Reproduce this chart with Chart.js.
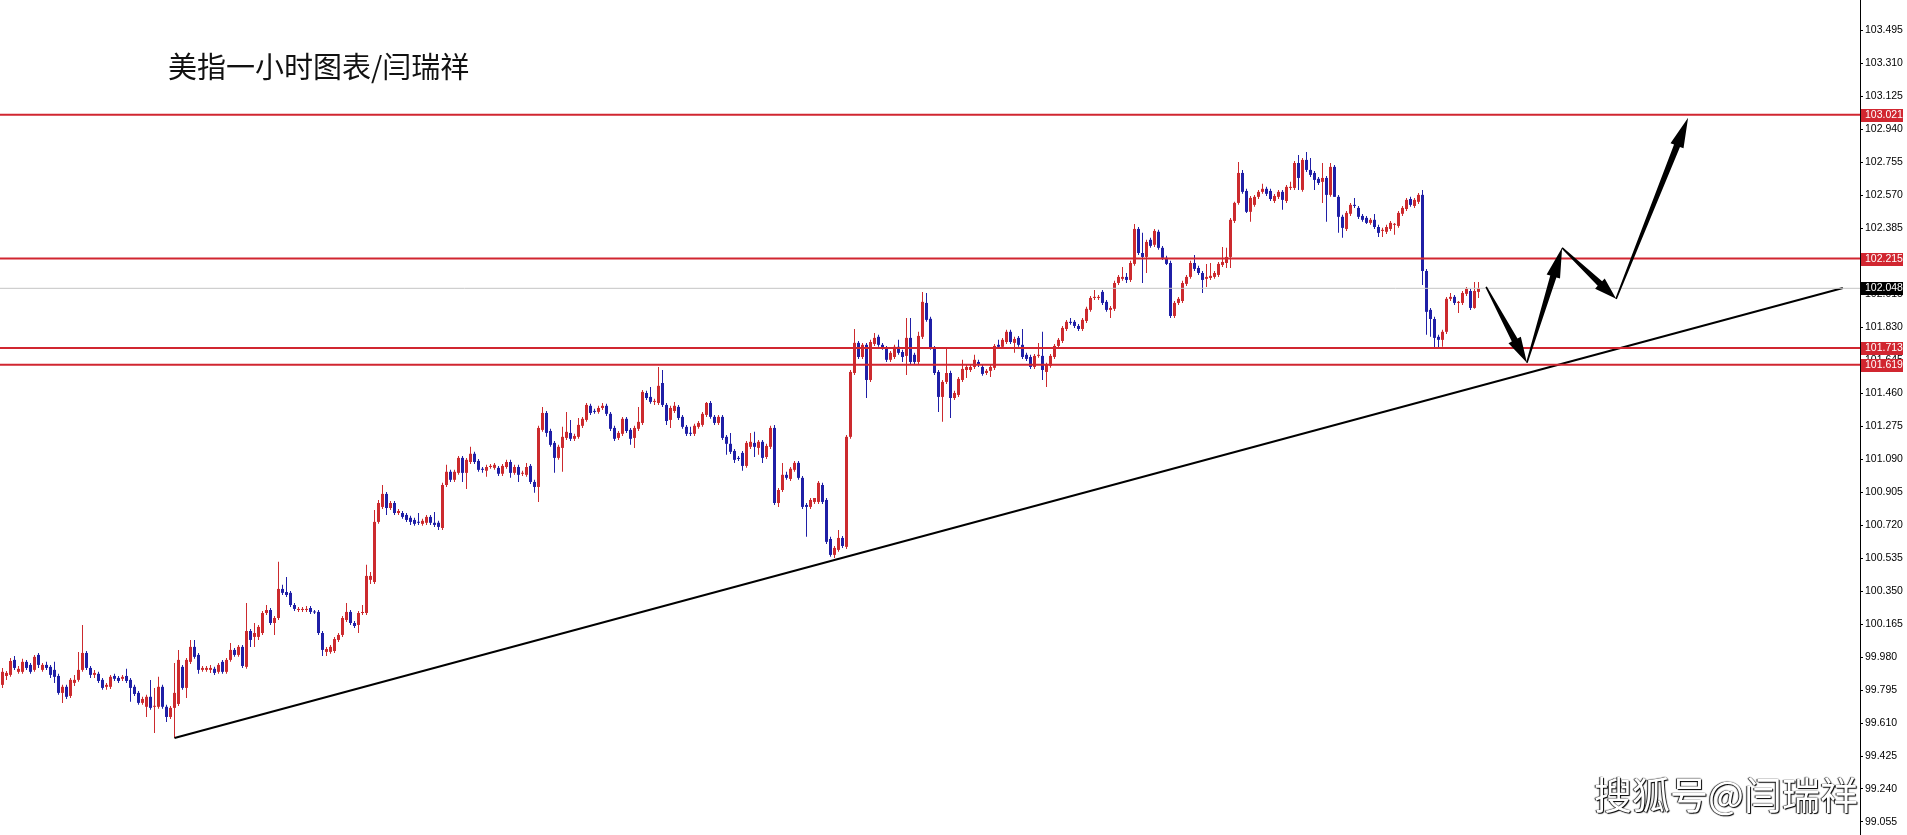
<!DOCTYPE html>
<html>
<head>
<meta charset="utf-8">
<script src="https://cdn.jsdelivr.net/npm/chart.js@4.4.0/dist/chart.umd.min.js"></script>
<style>
html, body { margin: 0; padding: 0; background: #fff; overflow: hidden; }
#wrap { position: relative; width: 1907px; height: 835px; }
#title { position: absolute; left: 168px; top: 51px; font: 29px/1 "Noto Sans CJK SC", sans-serif; color: #111; white-space: nowrap; }
#mark { position: absolute; left: 1594px; top: 774px; font: 38px/1 "Noto Sans CJK SC", sans-serif; color: #fff; white-space: nowrap;
        text-shadow: 1px 1px 1px #000, -1px 0 1px #222, 0 0 1px #000; }
</style>
</head>
<body>
<div id="wrap">
<canvas id="chart" width="1907" height="835"></canvas>
<div id="title">美指一小时图表/闫瑞祥</div>
<div id="mark">搜狐号@闫瑞祥</div>
</div>
<script>
// hourly candles, oldest first
const opens = [
99.824,99.874,99.880,99.964,99.897,99.897,99.953,99.936,99.908,99.992,
99.908,99.936,99.925,99.908,99.874,99.779,99.813,99.762,99.835,99.852,
99.908,100.003,99.919,99.880,99.886,99.852,99.813,99.813,99.874,99.863,
99.858,99.874,99.852,99.813,99.779,99.723,99.701,99.757,99.701,99.701,
99.813,99.701,99.644,99.695,99.717,99.925,99.807,99.953,100.037,99.992,
99.908,99.908,99.908,99.914,99.897,99.953,99.897,99.964,100.020,99.992,
100.037,99.925,100.126,100.093,100.093,100.115,100.227,100.244,100.171,100.199,
100.362,100.345,100.340,100.272,100.244,100.244,100.244,100.255,100.233,100.233,
100.115,100.009,100.009,100.014,100.076,100.104,100.188,100.233,100.171,100.160,
100.227,100.227,100.413,100.401,100.738,100.822,100.895,100.816,100.844,100.788,
100.788,100.777,100.761,100.749,100.738,100.727,100.733,100.766,100.733,100.733,
100.704,100.945,101.019,100.974,101.013,101.097,101.013,101.074,101.120,101.080,
101.036,101.025,101.046,101.041,101.041,101.008,101.046,101.074,101.013,101.046,
101.008,101.002,101.052,100.962,100.934,101.254,101.349,101.248,101.181,101.097,
101.153,101.209,101.237,101.204,101.215,101.277,101.310,101.389,101.360,101.355,
101.377,101.389,101.344,101.265,101.209,101.232,101.316,101.254,101.209,101.260,
101.293,101.461,101.439,101.411,101.405,101.517,101.394,101.310,101.360,101.383,
101.327,101.271,101.237,101.232,101.271,101.282,101.338,101.405,101.327,101.293,
101.327,101.215,101.176,101.136,101.097,101.125,101.052,101.159,101.181,101.153,
101.187,101.102,101.159,101.265,100.844,100.917,101.002,100.979,101.030,101.069,
100.985,100.833,100.822,100.850,100.850,100.945,100.861,100.642,100.553,100.581,
100.648,100.598,101.215,101.573,101.742,101.663,101.731,101.534,101.736,101.776,
101.731,101.714,101.647,101.663,101.720,101.691,101.669,101.770,101.675,101.635,
101.776,101.966,101.877,101.714,101.579,101.439,101.523,101.573,101.433,101.450,
101.534,101.590,101.590,101.607,101.635,101.607,101.573,101.585,101.602,101.731,
101.720,101.747,101.804,101.742,101.770,101.731,101.675,101.663,101.607,101.669,
101.669,101.579,101.613,101.663,101.725,101.753,101.820,101.860,101.860,101.837,
101.820,101.865,101.927,101.994,101.994,102.028,101.972,101.927,101.933,102.078,
102.101,102.112,102.095,102.185,102.381,102.246,102.224,102.320,102.292,102.365,
102.275,102.219,102.190,101.893,101.966,101.977,102.073,102.112,102.190,102.162,
102.134,102.101,102.106,102.112,102.123,102.179,102.190,102.224,102.426,102.527,
102.695,102.594,102.477,102.516,102.561,102.589,102.606,102.594,102.538,102.561,
102.589,102.538,102.611,102.611,102.751,102.600,102.768,102.712,102.695,102.662,
102.645,102.667,102.572,102.729,102.561,102.449,102.381,102.466,102.516,102.499,
102.454,102.443,102.415,102.432,102.392,102.370,102.365,102.381,102.404,102.398,
102.466,102.493,102.549,102.510,102.533,102.572,102.145,101.927,101.876,101.776,
101.759,101.804,101.989,102.000,101.966,101.966,102.017,102.033,101.938,102.028
];
const highs = [
99.919,99.902,99.975,99.986,99.930,99.970,99.964,99.947,99.992,100.003,
99.947,99.953,99.936,99.953,99.886,99.824,99.824,99.863,99.880,100.009,
100.160,100.014,99.930,99.908,99.897,99.863,99.835,99.880,99.886,99.874,
99.880,99.914,99.863,99.824,99.790,99.757,99.768,99.852,99.807,99.869,
99.824,99.712,99.706,99.947,100.020,99.936,99.975,100.076,100.076,100.003,
99.930,99.930,99.936,99.925,99.947,99.964,99.975,100.059,100.031,100.048,
100.048,100.283,100.138,100.171,100.160,100.238,100.272,100.255,100.210,100.514,
100.385,100.429,100.351,100.283,100.261,100.261,100.266,100.266,100.244,100.244,
100.126,100.037,100.048,100.093,100.115,100.210,100.283,100.244,100.182,100.238,
100.272,100.497,100.457,100.805,100.861,100.945,100.906,100.855,100.855,100.811,
100.799,100.788,100.772,100.761,100.788,100.755,100.777,100.777,100.794,100.744,
100.957,101.058,101.030,101.030,101.108,101.108,101.097,101.159,101.131,101.091,
101.046,101.058,101.063,101.069,101.052,101.063,101.086,101.086,101.058,101.058,
101.025,101.069,101.063,100.974,101.277,101.383,101.360,101.260,101.192,101.170,
101.271,101.355,101.310,101.232,101.321,101.327,101.405,101.400,101.372,101.389,
101.405,101.400,101.355,101.277,101.248,101.327,101.327,101.265,101.277,101.383,
101.478,101.473,101.495,101.428,101.607,101.590,101.405,101.389,101.411,101.394,
101.338,101.282,101.271,101.288,101.304,101.355,101.411,101.416,101.338,101.338,
101.338,101.226,101.237,101.147,101.108,101.136,101.192,101.237,101.243,101.198,
101.198,101.176,101.277,101.282,100.928,101.069,101.019,101.046,101.080,101.080,
100.996,100.844,100.872,100.872,100.968,100.957,100.872,100.654,100.603,100.693,
100.659,101.226,101.590,101.820,101.753,101.742,101.742,101.759,101.798,101.787,
101.742,101.725,101.697,101.731,101.759,101.703,101.882,101.882,101.686,101.804,
102.028,102.022,101.888,101.725,101.590,101.534,101.708,101.585,101.473,101.551,
101.647,101.619,101.619,101.675,101.647,101.619,101.596,101.619,101.736,101.759,
101.770,101.815,101.815,101.776,101.781,101.820,101.686,101.675,101.680,101.742,
101.804,101.630,101.680,101.736,101.770,101.837,101.871,101.882,101.871,101.848,
101.882,101.944,102.005,102.039,102.011,102.039,101.983,101.949,102.090,102.123,
102.168,102.134,102.202,102.409,102.392,102.359,102.320,102.331,102.381,102.376,
102.286,102.230,102.202,101.977,102.000,102.090,102.123,102.202,102.235,102.174,
102.145,102.185,102.190,102.145,102.196,102.280,102.275,102.443,102.533,102.757,
102.712,102.606,102.566,102.572,102.600,102.634,102.617,102.606,102.577,102.600,
102.600,102.628,102.645,102.762,102.796,102.779,102.813,102.779,102.706,102.673,
102.751,102.678,102.751,102.740,102.572,102.460,102.482,102.527,102.555,102.510,
102.465,102.454,102.443,102.465,102.404,102.387,102.404,102.426,102.415,102.482,
102.510,102.555,102.561,102.555,102.583,102.600,102.157,101.938,101.888,101.787,
101.815,101.999,102.022,102.011,101.977,102.033,102.056,102.045,102.084,102.084
];
const lows = [
99.807,99.852,99.869,99.908,99.886,99.886,99.908,99.886,99.897,99.919,
99.897,99.908,99.863,99.835,99.768,99.723,99.745,99.751,99.818,99.841,
99.897,99.908,99.863,99.863,99.835,99.796,99.796,99.801,99.846,99.835,
99.846,99.835,99.729,99.762,99.712,99.712,99.644,99.684,99.554,99.690,
99.690,99.616,99.633,99.526,99.706,99.796,99.751,99.941,99.970,99.886,
99.897,99.897,99.891,99.880,99.886,99.886,99.886,99.953,99.981,99.981,
99.919,99.914,100.037,100.037,100.076,100.104,100.216,100.160,100.104,100.188,
100.328,100.317,100.261,100.238,100.233,100.233,100.233,100.221,100.221,100.104,
99.986,99.986,99.998,100.003,100.065,100.093,100.177,100.160,100.143,100.115,
100.216,100.216,100.390,100.390,100.727,100.811,100.777,100.805,100.777,100.777,
100.755,100.738,100.721,100.716,100.721,100.716,100.721,100.721,100.710,100.693,
100.693,100.934,100.962,100.962,101.002,100.962,100.923,101.063,101.063,101.019,
101.013,100.991,101.036,101.030,100.996,100.996,101.036,100.985,101.002,100.962,
100.996,100.991,100.951,100.901,100.850,101.243,101.215,101.159,101.013,101.086,
101.019,101.198,101.192,101.192,101.204,101.265,101.299,101.338,101.344,101.344,
101.366,101.332,101.248,101.192,101.198,101.220,101.237,101.170,101.153,101.248,
101.282,101.422,101.400,101.394,101.394,101.383,101.282,101.265,101.349,101.310,
101.260,101.220,101.220,101.220,101.260,101.271,101.327,101.316,101.282,101.282,
101.198,101.114,101.119,101.069,101.080,101.025,101.041,101.147,101.102,101.114,
101.069,101.091,101.147,100.833,100.822,100.906,100.974,100.968,101.019,100.974,
100.811,100.654,100.811,100.839,100.839,100.839,100.614,100.542,100.536,100.570,
100.592,100.586,101.204,101.562,101.652,101.652,101.433,101.523,101.725,101.720,
101.703,101.635,101.635,101.652,101.675,101.635,101.562,101.624,101.624,101.624,
101.764,101.860,101.703,101.562,101.355,101.299,101.512,101.321,101.422,101.439,
101.523,101.545,101.579,101.596,101.607,101.557,101.562,101.551,101.590,101.708,
101.708,101.736,101.736,101.686,101.720,101.652,101.641,101.596,101.596,101.658,
101.534,101.495,101.602,101.652,101.708,101.742,101.809,101.843,101.826,101.809,
101.809,101.854,101.916,101.983,101.983,101.955,101.916,101.882,101.921,102.067,
102.090,102.078,102.084,102.174,102.235,102.078,102.134,102.275,102.280,102.264,
102.207,102.179,101.882,101.882,101.955,101.966,102.061,102.101,102.145,102.123,
102.022,102.056,102.095,102.101,102.112,102.168,102.162,102.162,102.415,102.516,
102.578,102.471,102.421,102.505,102.549,102.578,102.566,102.538,102.527,102.549,
102.488,102.527,102.600,102.600,102.600,102.589,102.701,102.673,102.600,102.628,
102.527,102.421,102.561,102.561,102.359,102.331,102.370,102.454,102.499,102.437,
102.421,102.409,102.404,102.381,102.336,102.336,102.353,102.370,102.348,102.387,
102.454,102.482,102.505,102.499,102.521,102.067,101.787,101.776,101.714,101.714,
101.720,101.792,101.977,101.955,101.910,101.955,102.005,101.927,101.933,101.994
];
const closes = [
99.897,99.891,99.958,99.919,99.914,99.953,99.919,99.897,99.981,99.936,
99.936,99.919,99.880,99.869,99.779,99.813,99.757,99.852,99.852,99.908,
100.003,99.919,99.880,99.891,99.846,99.807,99.824,99.869,99.858,99.846,
99.869,99.846,99.807,99.773,99.723,99.745,99.757,99.695,99.706,99.813,
99.701,99.644,99.695,99.779,99.964,99.807,99.964,100.037,99.981,99.908,
99.919,99.919,99.919,99.891,99.936,99.897,99.964,100.020,99.992,100.037,
99.930,100.126,100.076,100.115,100.149,100.227,100.244,100.171,100.199,100.362,
100.340,100.328,100.272,100.250,100.250,100.250,100.250,100.233,100.230,100.115,
100.020,100.025,100.037,100.081,100.104,100.199,100.233,100.171,100.154,100.227,
100.230,100.435,100.435,100.738,100.844,100.895,100.816,100.844,100.788,100.799,
100.766,100.749,100.738,100.727,100.733,100.744,100.766,100.733,100.721,100.710,
100.945,101.019,100.974,101.019,101.097,101.013,101.086,101.120,101.074,101.030,
101.030,101.046,101.052,101.058,101.008,101.052,101.074,101.013,101.046,101.002,
101.013,101.046,100.962,100.934,101.265,101.349,101.237,101.170,101.097,101.159,
101.215,101.243,101.204,101.220,101.282,101.316,101.394,101.349,101.355,101.377,
101.389,101.344,101.260,101.204,101.237,101.316,101.248,101.204,101.265,101.299,
101.467,101.433,101.411,101.416,101.501,101.394,101.304,101.377,101.389,101.321,
101.271,101.232,101.232,101.277,101.293,101.344,101.405,101.327,101.293,101.327,
101.209,101.176,101.131,101.086,101.091,101.052,101.181,101.187,101.159,101.187,
101.097,101.164,101.265,100.844,100.917,101.002,100.985,101.036,101.069,100.985,
100.822,100.822,100.861,100.872,100.957,100.850,100.626,100.553,100.592,100.648,
100.603,101.215,101.579,101.742,101.663,101.731,101.534,101.747,101.770,101.731,
101.714,101.647,101.686,101.720,101.686,101.663,101.770,101.635,101.635,101.781,
101.972,101.871,101.714,101.573,101.439,101.523,101.573,101.433,101.461,101.540,
101.596,101.607,101.607,101.647,101.619,101.568,101.585,101.607,101.725,101.720,
101.759,101.804,101.747,101.764,101.731,101.663,101.652,101.607,101.669,101.675,
101.590,101.619,101.669,101.725,101.759,101.826,101.860,101.854,101.837,101.820,
101.871,101.933,101.994,102.000,102.000,101.966,101.927,101.938,102.078,102.112,
102.112,102.095,102.190,102.381,102.246,102.224,102.308,102.286,102.370,102.275,
102.219,102.185,101.893,101.966,101.989,102.078,102.112,102.190,102.157,102.134,
102.095,102.112,102.118,102.134,102.185,102.196,102.224,102.432,102.527,102.695,
102.589,102.477,102.555,102.561,102.589,102.606,102.578,102.549,102.566,102.589,
102.544,102.617,102.617,102.751,102.667,102.768,102.712,102.684,102.656,102.639,
102.667,102.572,102.729,102.561,102.449,102.387,102.471,102.516,102.510,102.449,
102.432,102.415,102.432,102.392,102.359,102.376,102.392,102.415,102.409,102.471,
102.499,102.544,102.516,102.544,102.572,102.145,101.916,101.876,101.770,101.759,
101.804,101.989,102.000,101.966,101.972,102.022,102.045,101.938,102.033,102.048
];

// right price axis
const yTicks = [99.055, 99.240, 99.425, 99.610, 99.795, 99.980, 100.165, 100.350, 100.535,
  100.720, 100.905, 101.090, 101.275, 101.460, 101.645, 101.830, 102.015, 102.200, 102.385,
  102.570, 102.755, 102.940, 103.125, 103.310, 103.495, 103.680];
const yMin = 98.982, yMax = 103.665;

// drawn objects
const levelValues = [103.021, 102.215, 101.713, 101.619];
const bidValue = 102.048;
const trendX = [43, 460.1];
const trendY = [99.526, 102.05];
const arrowX = [370.9, 381.1, 389.9, 403.4, 421.4];
const arrowY = [102.056, 101.630, 102.275, 101.989, 103.004];

const UP = '#cc2a2e';
const DOWN = '#1f1fa6';
const LEVEL = '#d12630';

const candleColors = closes.map((c, i) => c >= opens[i] ? UP : DOWN);

const levelSets = levelValues.map(v => ({
  type: 'line',
  data: [{x: -1, y: v}, {x: 466, y: v}],
  borderColor: LEVEL,
  borderWidth: 2,
  pointRadius: 0,
  order: 0
}));

// labels on the price axis + arrows
const extras = {
  id: 'extras',
  afterDatasetsDraw(chart) {
    const {ctx, scales: {x, y}} = chart;
    ctx.save();
    ctx.fillStyle = '#000';
    for (let k = 0; k < arrowX.length - 1; k++) {
      arrow(ctx, x.getPixelForValue(arrowX[k]), y.getPixelForValue(arrowY[k]),
        x.getPixelForValue(arrowX[k + 1]), y.getPixelForValue(arrowY[k + 1]));
    }
    ctx.restore();
  },
  afterDraw(chart) {
    const {ctx, chartArea, scales: {y}} = chart;
    ctx.save();
    ctx.font = '10.5px "Liberation Sans", Arial, sans-serif';
    ctx.textBaseline = 'middle';
    // partly hidden top label
    ctx.fillStyle = '#000';
    ctx.fillText(yTicks[yTicks.length - 1].toFixed(3), chartArea.right + 5, y.getPixelForValue(yTicks[yTicks.length - 1]));
    const tag = (v, bg) => {
      const py = Math.round(y.getPixelForValue(v));
      ctx.fillStyle = bg;
      ctx.fillRect(chartArea.right + 1, py - 6, 42, 13);
      ctx.fillStyle = '#fff';
      ctx.fillText(v.toFixed(3), chartArea.right + 5, py + 0.5);
    };
    levelValues.forEach(v => tag(v, LEVEL));
    tag(bidValue, '#000');
    ctx.restore();
  }
};

function arrow(ctx, x0, y0, x1, y1) {
  const len = Math.hypot(x1 - x0, y1 - y0);
  const dx = (x1 - x0) / len, dy = (y1 - y0) / len;
  const nx = -dy, ny = dx;
  const hl = Math.min(30, len * 0.3), hw = 7;
  const bx = x1 - dx * hl, by = y1 - dy * hl;
  ctx.beginPath();
  ctx.moveTo(x0 + nx * 0.8, y0 + ny * 0.8);
  ctx.lineTo(bx + nx * 3.2, by + ny * 3.2);
  ctx.lineTo(bx + nx * hw, by + ny * hw);
  ctx.lineTo(x1, y1);
  ctx.lineTo(bx - nx * hw, by - ny * hw);
  ctx.lineTo(bx - nx * 3.2, by - ny * 3.2);
  ctx.lineTo(x0 - nx * 0.8, y0 - ny * 0.8);
  ctx.closePath();
  ctx.fill();
}

new Chart(document.getElementById('chart'), {
  type: 'bar',
  data: {
    datasets: [
      {
        label: 'body',
        data: closes.map((c, i) => ({x: i, y: [opens[i], c]})),
        backgroundColor: candleColors,
        barThickness: 3,
        minBarLength: 1,
        inflateAmount: 0,
        grouped: false,
        order: 1
      },
      {
        label: 'wick',
        data: closes.map((c, i) => ({x: i, y: [lows[i], highs[i]]})),
        backgroundColor: candleColors,
        barThickness: 1,
        inflateAmount: 0,
        grouped: false,
        order: 2
      },
      ...levelSets,
      {
        type: 'line',
        data: [{x: -1, y: bidValue}, {x: 466, y: bidValue}],
        borderColor: '#c4c4c4',
        borderWidth: 1,
        pointRadius: 0,
        order: 0
      },
      {
        type: 'line',
        data: trendX.map((v, k) => ({x: v, y: trendY[k]})),
        borderColor: '#000',
        borderWidth: 2,
        pointRadius: 0,
        order: 0
      }
    ]
  },
  options: {
    responsive: false,
    animation: false,
    events: [],
    layout: {padding: 0},
    plugins: {legend: {display: false}, tooltip: {enabled: false}},
    scales: {
      x: {type: 'linear', min: -0.625, max: 464.375, offset: false, display: false},
      y: {
        position: 'right',
        min: yMin,
        max: yMax,
        grid: {display: true, drawOnChartArea: false, drawTicks: true, tickLength: 3, color: '#000'},
        border: {display: true, color: '#000', width: 1},
        ticks: {
          autoSkip: false,
          padding: 2,
          color: '#000',
          font: {family: '"Liberation Sans", Arial, sans-serif', size: 10.5},
          callback: v => Number(v).toFixed(3)
        },
        afterBuildTicks: s => { s.ticks = yTicks.filter(v => v <= yMax).map(v => ({value: v})); },
        afterFit: s => { s.width = 47; s.paddingTop = 0; s.paddingBottom = 0; }
      }
    }
  },
  plugins: [extras]
});
</script>
</body>
</html>
